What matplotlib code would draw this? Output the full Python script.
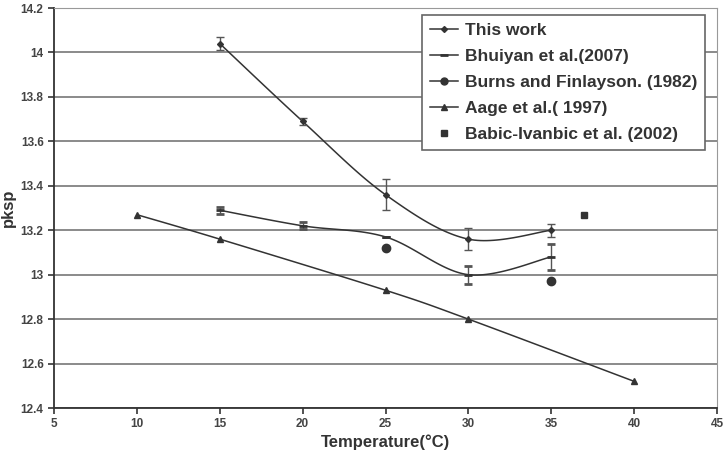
import numpy as np
import matplotlib.pyplot as plt
from matplotlib.ticker import FuncFormatter

plt.rcParams['font.family'] = ['Liberation Sans', 'DejaVu Sans']

# This work
t_this = [15, 20, 25, 30, 35]
pk_this = [14.04, 13.69, 13.36, 13.16, 13.20]
err_this = [0.03, 0.015, 0.07, 0.05, 0.03]

# Bhuiyan et al. (2007)
t_bhu = [15, 20, 25, 30, 35]
pk_bhu = [13.29, 13.22, 13.17, 13.00, 13.08]
err_bhu = [0.015, 0.015, 0.0, 0.04, 0.06]

# Burns and Finlayson (1982)
t_burns = [25, 35]
pk_burns = [13.12, 12.97]

# Aage et al. (1997)
t_aage = [10, 15, 25, 30, 40]
pk_aage = [13.27, 13.16, 12.93, 12.80, 12.52]

# Babic-Ivanbic et al. (2002)
t_babic = [37]
pk_babic = [13.27]


def smooth(x, y, n=30):
    # Excel-style smoothed line (Catmull-Rom through the points)
    x = np.asarray(x, float)
    y = np.asarray(y, float)
    px = np.concatenate([[x[0]], x, [x[-1]]])
    py = np.concatenate([[y[0]], y, [y[-1]]])
    xs, ys = [], []
    for i in range(1, len(px) - 2):
        s = np.linspace(0, 1, n)
        for p, out in ((px, xs), (py, ys)):
            p0, p1, p2, p3 = p[i - 1], p[i], p[i + 1], p[i + 2]
            out.extend(0.5 * ((2 * p1) + (-p0 + p2) * s
                              + (2 * p0 - 5 * p1 + 4 * p2 - p3) * s ** 2
                              + (-p0 + 3 * p1 - 3 * p2 + p3) * s ** 3))
    return xs, ys


fig = plt.figure(figsize=(7.23, 4.53), dpi=100)
ax = fig.add_axes([0.0747, 0.0993, 0.917, 0.883])

lc = '#333333'
ax.plot(*smooth(t_this, pk_this), color=lc, lw=1.1)
ax.errorbar(t_this, pk_this, yerr=err_this, fmt='D', ms=3, color=lc,
            ecolor='#555555', elinewidth=1, capsize=3)
ax.plot(*smooth(t_bhu, pk_bhu), color=lc, lw=1.1)
ax.errorbar(t_bhu, pk_bhu, yerr=err_bhu, fmt='_', ms=6, mew=2, color=lc,
            ecolor='#555555', elinewidth=1, capsize=3)
ax.plot(*smooth(t_aage, pk_aage), color=lc, lw=1.1)
ax.plot(t_aage, pk_aage, '^', ms=5, color=lc)
ax.plot(t_burns, pk_burns, 'o', ms=6, color=lc)
ax.plot(t_babic, pk_babic, 's', ms=4.5, color=lc)

# legend handles
h1, = ax.plot([], [], '-D', ms=3, color=lc, lw=1.1)
h2, = ax.plot([], [], '-_', ms=6, mew=2, color=lc, lw=1.1)
h3, = ax.plot([], [], '-o', ms=5, color=lc, lw=1.1)
h4, = ax.plot([], [], '-^', ms=4, color=lc, lw=1.1)
h5, = ax.plot([], [], 's', ms=4, color=lc)
leg = ax.legend([h1, h2, h3, h4, h5],
                ['This work', 'Bhuiyan et al.(2007)', 'Burns and Finlayson. (1982)',
                 'Aage et al.( 1997)', 'Babic-Ivanbic et al. (2002)'],
                loc='upper right', bbox_to_anchor=(0.99, 0.995), fancybox=False,
                framealpha=1, edgecolor='#666666', handlelength=1.6,
                handletextpad=0.4, prop={'weight': 'bold', 'size': 12.5},
                labelspacing=0.62, labelcolor='#333333', borderpad=0.45,
                borderaxespad=0.3)
leg.get_frame().set_linewidth(1.2)

ax.set_xlim(5, 45)
ax.set_ylim(12.4, 14.2)
ax.set_xticks(np.arange(5, 46, 5))
ax.set_yticks(np.arange(12.4, 14.21, 0.2))
ax.yaxis.set_major_formatter(FuncFormatter(lambda v, p: '%g' % round(v, 1)))
ax.grid(axis='y', color='#777777', lw=1.2)
ax.set_axisbelow(True)
for s in ('top', 'right'):
    ax.spines[s].set_color('#999999')
for s in ('left', 'bottom'):
    ax.spines[s].set_color('#333333')
    ax.spines[s].set_linewidth(1.3)
ax.tick_params(labelsize=8.5, colors='#333333', width=1.2, length=4)
for lab in ax.get_xticklabels() + ax.get_yticklabels():
    lab.set_fontweight('bold')
    lab.set_color('#444444')

ax.set_xlabel('Temperature(°C)', fontsize=12, fontweight='bold', color='#333333', labelpad=3)
ax.set_ylabel('pksp', fontsize=12, fontweight='bold', color='#333333')
ax.yaxis.set_label_coords(-0.057, 0.5)

fig.savefig('out.png', dpi=100)
